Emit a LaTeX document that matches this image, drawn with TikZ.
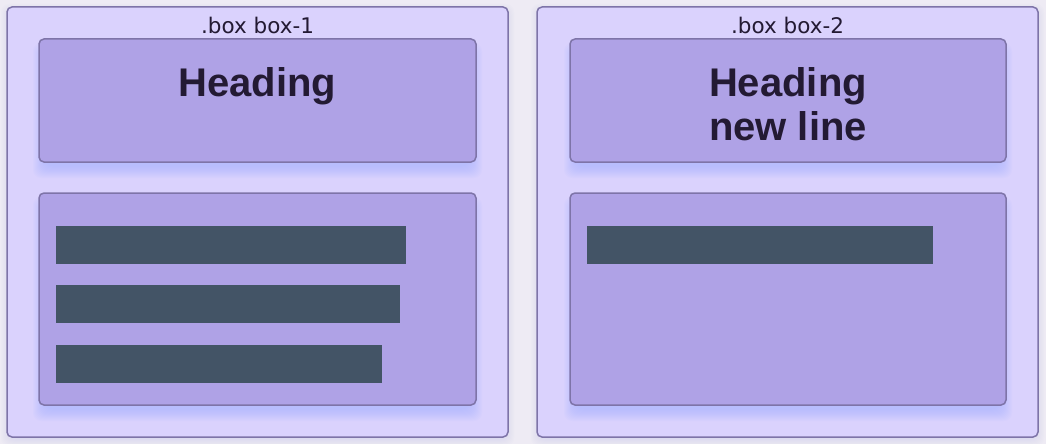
\documentclass[tikz,border=0pt]{standalone}
\usepackage{fontspec}
\setmainfont{Liberation Sans}
\newfontfamily\labelfont{DejaVu Sans}
\definecolor{bgc}{HTML}{EEEBF4}
\definecolor{outerfill}{HTML}{DAD2FD}
\definecolor{innerfill}{HTML}{AFA2E6}
\definecolor{edgec}{HTML}{7E74A8}
\definecolor{barc}{HTML}{435466}
\definecolor{textc}{HTML}{231A33}
\definecolor{glow}{HTML}{A0B0FF}
\definecolor{glowb}{HTML}{C8C8F0}
\newcommand\myglow[6]{% x1 y1 x2 y2 shift color
  \foreach \r in {0,1,...,12}{
    \fill[#6, opacity=0.055, rounded corners=8pt]
      ({#1-\r+6},{#2+#5-\r+6}) rectangle ({#3+\r-6},{#4+#5+\r-6});
  }}
\tikzset{
  outerbox/.style={draw=edgec, line width=1.5pt, fill=outerfill, rounded corners=5pt},
  innerbox/.style={draw=edgec, line width=1.5pt, fill=innerfill, rounded corners=5pt},
  bar/.style={fill=barc, draw=none},
  boxlabel/.style={font=\labelfont\fontsize{21.5}{24}\selectfont, text=textc, inner sep=0pt},
  heading/.style={font=\fontsize{40}{45}\selectfont\bfseries, text=textc, align=center, inner sep=0pt}
}
\begin{document}
\begin{tikzpicture}[x=1pt,y=-1pt]
\fill[bgc] (0,0) rectangle (1046,444);
\useasboundingbox (0,0) rectangle (1046,444);
% box 1
\myglow{7}{7}{508}{437}{3}{glowb}
\draw[outerbox] (7,7) rectangle (508,437);
\node[boxlabel, anchor=base] (l1) at (257.5,34) {.box box-1};
\myglow{39}{39}{476}{162}{10}{glow}
\draw[innerbox] (39,39) rectangle (476,162);
\node[heading, anchor=base] (h1) at (257.5,96) {Heading};
\myglow{39}{193}{476}{405}{10}{glow}
\draw[innerbox] (39,193) rectangle (476,405);
\fill[bar] (56,226) rectangle (406,264);
\fill[bar] (56,285) rectangle (400,323);
\fill[bar] (56,345) rectangle (382,383);
% box 2
\myglow{537}{7}{1038}{437}{3}{glowb}
\draw[outerbox] (537,7) rectangle (1038,437);
\node[boxlabel, anchor=base] (l2) at (787.5,34) {.box box-2};
\myglow{570}{39}{1006}{162}{10}{glow}
\draw[innerbox] (570,39) rectangle (1006,162);
\node[heading, anchor=base] (h2a) at (788,96) {Heading};
\node[heading, anchor=base] (h2b) at (788,140) {new line};
\myglow{570}{193}{1006}{405}{10}{glow}
\draw[innerbox] (570,193) rectangle (1006,405);
\fill[bar] (587,226) rectangle (933,264);
\end{tikzpicture}
\end{document}
